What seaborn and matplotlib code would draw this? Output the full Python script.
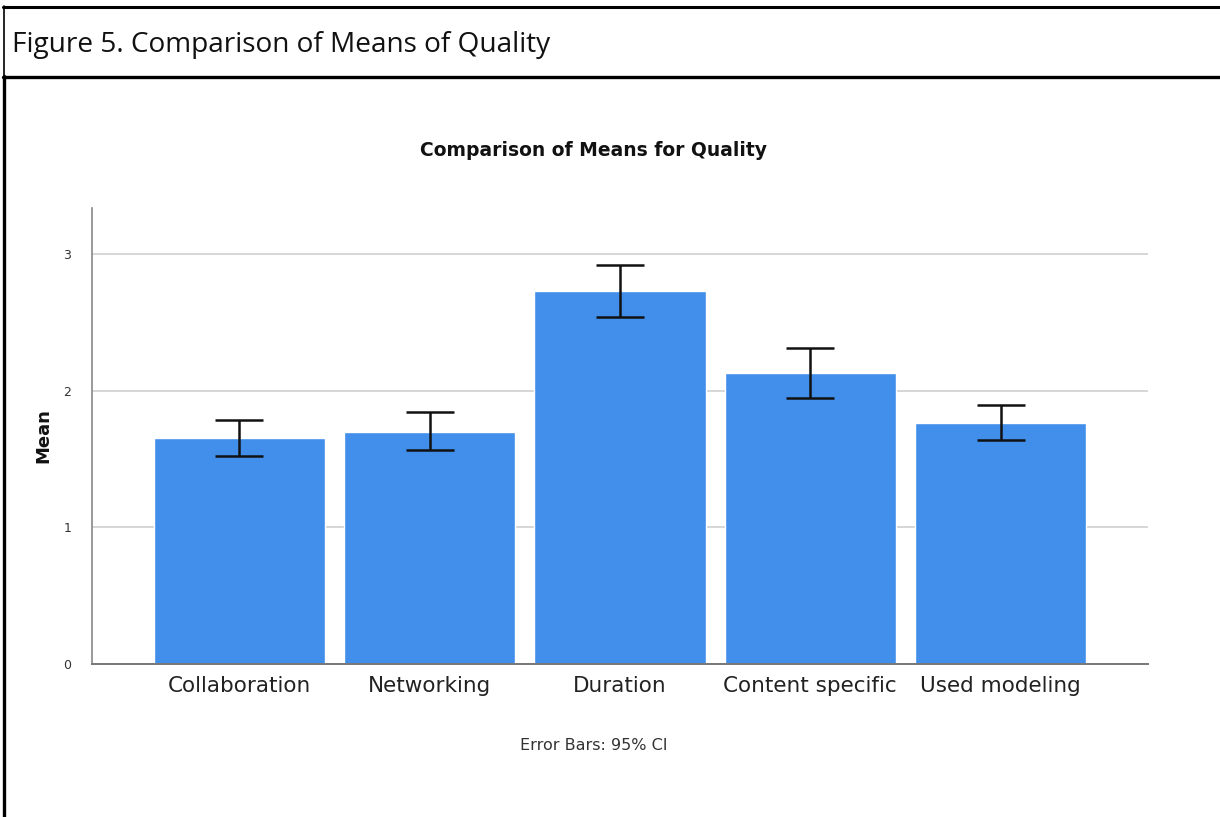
import numpy as np
import matplotlib
matplotlib.use("Agg")
import matplotlib.pyplot as plt
from matplotlib.lines import Line2D
import seaborn as sns

# Mean quality rating per professional-development feature, with 95% CI bounds
categories = ["Collaboration", "Networking", "Duration", "Content specific", "Used modeling"]
means = [1.65, 1.70, 2.73, 2.13, 1.76]
ci_lower = [1.52, 1.565, 2.54, 1.945, 1.64]
ci_upper = [1.785, 1.84, 2.92, 2.31, 1.895]
y_ticks = [0, 1, 2, 3]

sns.set_theme(style="white")
plt.rcParams["font.family"] = ["DejaVu Sans"]

W, H = 1220, 817
fig = plt.figure(figsize=(W / 100, H / 100), dpi=100)
fig.patch.set_facecolor("white")

ax = fig.add_axes([92 / W, 1 - 664 / H, (1148 - 92) / W, (664 - 208) / H])
ax.set_facecolor("white")

sns.barplot(x=categories, y=means, color="#418FEA", saturation=1, width=0.9,
            errorbar=None, ax=ax, zorder=2)

pos = np.arange(len(categories))
m = np.array(means)
yerr = np.vstack([m - np.array(ci_lower), np.array(ci_upper) - m])
ax.errorbar(pos, m, yerr=yerr, fmt="none", ecolor="#111111", elinewidth=1.8,
            capsize=17, capthick=1.8, zorder=3)

ax.set_xlim(-0.775, 4.775)
ax.set_ylim(0, 3.336)
ax.set_yticks(y_ticks)
ax.set_yticklabels([str(t) for t in y_ticks], fontsize=9, color="#333333")
ax.yaxis.grid(True, color="#d0d0d0", linewidth=1.2, zorder=0)
ax.set_axisbelow(True)
ax.tick_params(axis="y", length=0, pad=15)
ax.tick_params(axis="x", length=0, pad=9, labelsize=15.5, labelcolor="#222222")

for side in ["top", "right"]:
    ax.spines[side].set_visible(False)
ax.spines["left"].set_color("#888888")
ax.spines["left"].set_linewidth(1.2)
ax.spines["bottom"].set_color("#777777")
ax.spines["bottom"].set_linewidth(1.4)

ax.set_xlabel("")
ax.set_ylabel("Mean", fontsize=13, fontweight="bold", color="#111111", labelpad=8)

# Chart title and footnote
fig.text(594 / W, 1 - 150 / H, "Comparison of Means for Quality", ha="center", va="center",
         fontsize=13.5, fontweight="bold", color="#111111")
fig.text(594 / W, 1 - 745 / H, "Error Bars: 95% CI", ha="center", va="center",
         fontsize=11.5, color="#333333")

# Caption header with framing rules
fig.text(12 / W, 1 - 45 / H, "Figure 5. Comparison of Means of Quality", ha="left", va="center",
         fontsize=20.2, color="#111111", family=["Open Sans", "DejaVu Sans"])
fig.add_artist(Line2D([3 / W, 1], [1 - 7 / H, 1 - 7 / H], color="black", linewidth=2.2,
                      transform=fig.transFigure))
fig.add_artist(Line2D([3 / W, 1], [1 - 76.5 / H, 1 - 76.5 / H], color="black", linewidth=2.4,
                      transform=fig.transFigure))
fig.add_artist(Line2D([3.5 / W, 3.5 / W], [1 - 77 / H, 1 - 6 / H], color="black", linewidth=1.2,
                      transform=fig.transFigure))
fig.add_artist(Line2D([4 / W, 4 / W], [0, 1 - 76 / H], color="black", linewidth=2.4,
                      transform=fig.transFigure))

fig.savefig("out.png", dpi=100, facecolor="white")
